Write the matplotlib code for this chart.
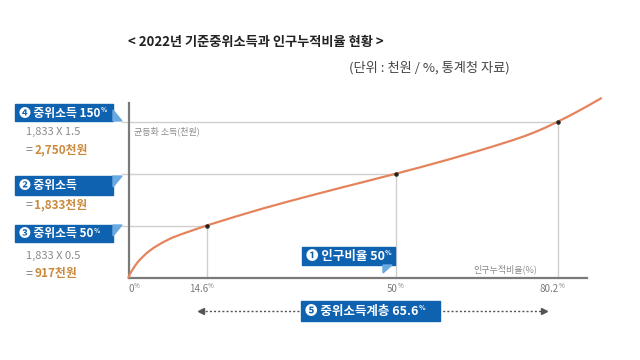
import matplotlib.pyplot as plt
from matplotlib.patches import Rectangle, Polygon

plt.rcParams['font.family'] = ['Noto Sans CJK KR', 'DejaVu Sans']

# population cumulative ratio (%) vs equalised income (thousand won)
pop_pct = [0, 0.3, 0.7, 1.2, 1.8, 2.5, 3.5, 4.8, 6.4, 8.1, 10, 12.2, 14.6,
           20, 25, 30, 35, 40, 45, 50, 55, 60, 65, 68, 72, 74, 76, 78, 80.2,
           82.2, 84.3, 86.3, 88.3]
income = [0, 68, 130, 205, 280, 350, 440, 530, 620, 700, 768, 840, 917,
          1075, 1215, 1345, 1470, 1592, 1712, 1833, 1958, 2088, 2225, 2310, 2430, 2495, 2568, 2650, 2750,
          2845, 2950, 3055, 3163]

key_pct = [14.6, 50, 80.2]
key_income = [917, 1833, 2750]
tick_labels = ['0', '14.6', '50', '80.2']
tick_pos = [0, 14.6, 50, 80.2]

title = '< 2022년 기준중위소득과 인구누적비율 현황 >'
subtitle = '(단위 : 천원 / %, 통계청 자료)'

blue = '#0f62b0'
tab_blue = '#6aa8e0'
orange = '#e5845c'
brown = '#c98a3e'
gray = '#8a8a8a'
grid_c = '#cfcfcf'

fig = plt.figure(figsize=(6.4, 3.6), dpi=100)
fig.patch.set_facecolor('white')

# main axes placed in pixel terms
ax = fig.add_axes([128.5 / 640, 1 - 277.5 / 360, (587 - 128.5) / 640, (277.5 - 103) / 360])
ax.patch.set_visible(False)
ax.set_xlim(0, 85.67)
ax.set_ylim(0, 3080)
for s in ['top', 'right']:
    ax.spines[s].set_visible(False)
for s in ['left', 'bottom']:
    ax.spines[s].set_color('#7a7a7a')
    ax.spines[s].set_linewidth(1.6)
ax.set_xticks([])
ax.set_yticks([])

x_start = -1.25  # start of the guide lines, at the label tabs
for px, inc in zip(key_pct, key_income):
    ax.plot([x_start, px], [inc, inc], color=grid_c, lw=1, clip_on=False, zorder=1)
    ax.plot([px, px], [0, inc], color=grid_c, lw=1, clip_on=False, zorder=1)

ax.plot(pop_pct, income, color=orange, lw=1.6, clip_on=False, zorder=3,
        solid_joinstyle='round', solid_capstyle='round')
ax.scatter(key_pct, key_income, s=5, color='#222222', zorder=4, clip_on=False)

# x tick labels with small %
for p, lab in zip(tick_pos, tick_labels):
    t = ax.annotate(lab, xy=(p, 0), xytext=(2 if p == 0 else 1, -8), textcoords='offset points',
                    ha='center' if p == 0 else 'right', va='center', fontsize=7, color='#7a7a7a')
    ax.annotate('%', xy=(1, 0.8), xycoords=t, ha='left', va='center', fontsize=4.5, color='#7a7a7a')

ax.text(1.0, 2750 - 80, '균등화 소득(천원)', fontsize=6.5, color=gray, va='top', ha='left')
ax.text(64.5, 60, '인구누적비율(%)', fontsize=6.5, color=gray, va='bottom', ha='left')

# dotted double arrow
xt = ax.get_xaxis_transform()
ax.plot([key_pct[0] - 1, key_pct[2] - 2.5], [-0.192, -0.192], transform=xt, color='#555555',
        lw=1, ls=(0, (1.5, 1.5)), clip_on=False)
ax.plot([key_pct[0] - 1], [-0.192], transform=xt, marker='<', ms=4, color='#555555', clip_on=False)
ax.plot([key_pct[2] - 2.5], [-0.192], transform=xt, marker='>', ms=4, color='#555555', clip_on=False)

# overlay in pixel coordinates
ov = fig.add_axes([0, 0, 1, 1])
ov.set_xlim(0, 640)
ov.set_ylim(360, 0)
ov.axis('off')
ov.patch.set_visible(False)


def tag(x0, y0, x1, y1, num, label, pct=None, tab=None, size=8.5):
    ov.add_patch(Rectangle((x0, y0), x1 - x0, y1 - y0, color=blue, zorder=5))
    if tab is not None:
        ov.add_patch(Polygon(tab, closed=True, color=tab_blue, zorder=5))
    t = ov.text(x0 + 4, (y0 + y1) / 2 + 0.5, num + ' ' + label, color='white', fontsize=size,
                weight='bold', va='center', ha='left', zorder=6)
    if pct:
        ov.annotate('%', xy=(1, 0.8), xycoords=t, ha='left', va='center', fontsize=size * 0.55,
                    color='white', weight='bold', zorder=6)
    return t


tag(15, 104, 113, 121, '❹', '중위소득 150', pct=True, tab=[(113, 121), (122, 121), (113, 110)])
tag(15, 176, 113, 195, '❷', '중위소득', tab=[(113, 176), (122, 176), (113, 187)])
tag(15, 225, 113, 242, '❸', '중위소득 50', pct=True, tab=[(113, 225), (122, 225), (113, 236)])
tag(302, 247, 395, 265, '❶', '인구비율 50', pct=True, tab=[(383, 265), (392, 265), (383, 273)], size=9)
tag(301, 301, 440, 321, '❺', '중위소득계층 65.6', pct=True, size=9)


def value(y, formula, result):
    if formula:
        ov.text(26, y - 18, formula, fontsize=8, color=gray, va='center', ha='left')
    t = ov.text(26, y, '=', fontsize=9, color=gray, va='center', ha='left')
    ov.annotate(result, xy=(1, 0.5), xycoords=t, xytext=(1, 0), textcoords='offset points',
                fontsize=8.5, weight='bold', color=brown, va='center', ha='left')


value(150, '1,833 X 1.5', '2,750천원')
value(205, None, '1,833천원')
value(274, '1,833 X 0.5', '917천원')

ov.text(256, 42, title, fontsize=9.5, weight='bold', color='#222222', ha='center', va='center')
ov.text(510, 68, subtitle, fontsize=9.5, color='#444444', ha='right', va='center')

fig.savefig('out.png', dpi=100)
